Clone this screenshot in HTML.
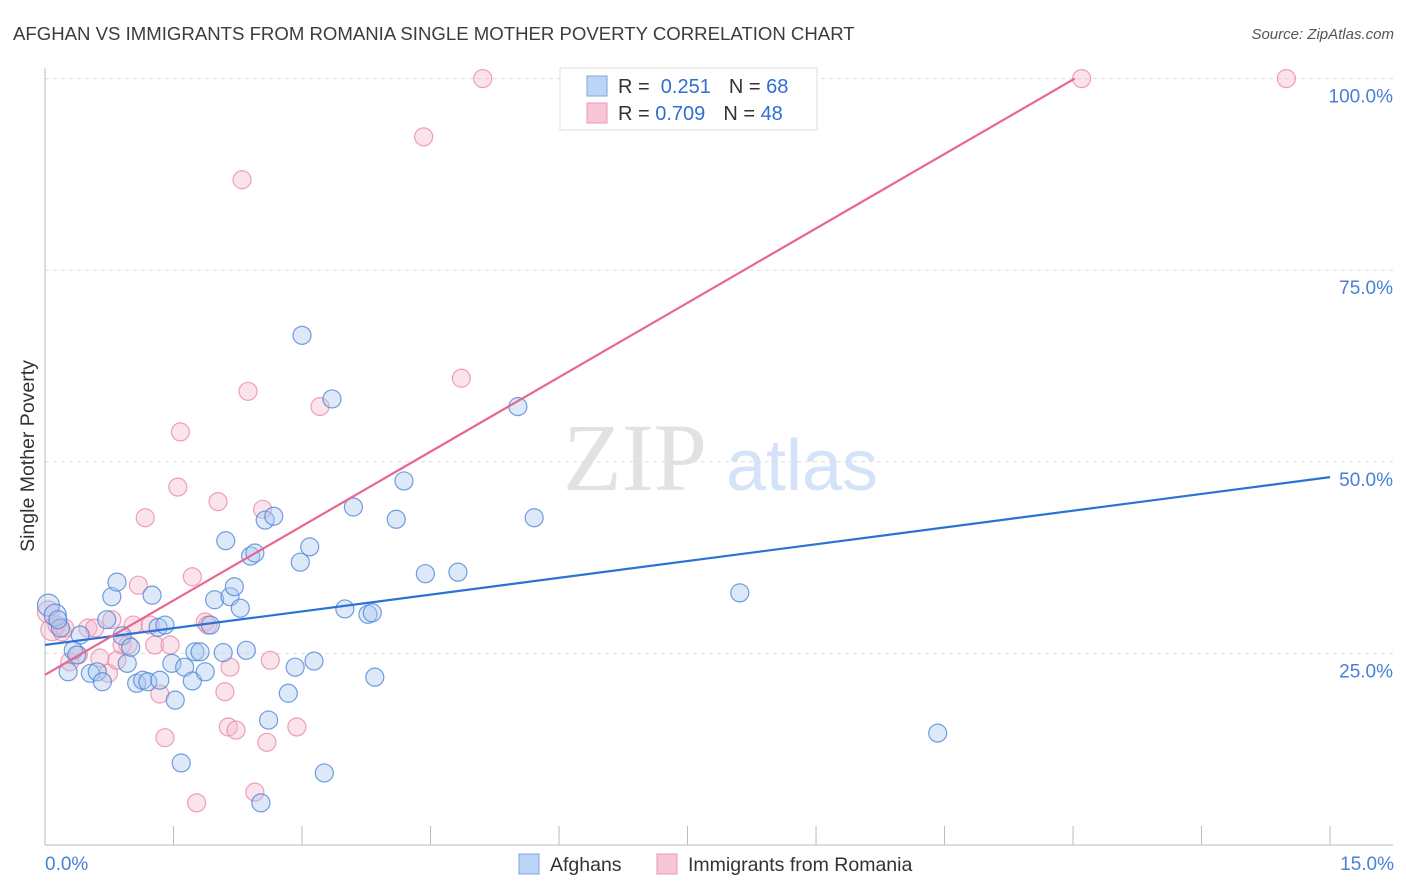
<!DOCTYPE html>
<html><head><meta charset="utf-8"><style>
body{margin:0;background:#fff;font-family:"Liberation Sans",sans-serif;}
svg{display:block}
</style></head><body>
<svg width="1406" height="892" id="svg">
<text x="13" y="40" font-size="18.6" fill="#3c3c3c">AFGHAN VS IMMIGRANTS FROM ROMANIA SINGLE MOTHER POVERTY CORRELATION CHART</text>
<text x="1394" y="39" font-size="15" fill="#555" font-style="italic" text-anchor="end">Source: ZipAtlas.com</text>
<g>
<text x="635" y="490" font-size="96" font-family="Liberation Serif,serif" fill="#e2e2e2" text-anchor="middle">ZIP</text>
<text x="802" y="490" font-size="72" fill="#d4e3f7" text-anchor="middle">atlas</text>
</g>
<g id="grid"></g>
<g id="axes"></g>
<g id="pts"></g>
<g id="lines"></g>
<text x="34" y="456" font-size="19.5" fill="#333" text-anchor="middle" transform="rotate(-90 34 456)">Single Mother Poverty</text>
<text x="45" y="870" font-size="19" fill="#4a7fd6">0.0%</text>
<text x="1394" y="870" font-size="19" fill="#4a7fd6" text-anchor="end">15.0%</text>
<g>
<rect x="560" y="68" width="257" height="62" fill="#fff" stroke="#ddd"/>
<rect x="587" y="76" width="20" height="20" fill="#bcd4f5" stroke="#7ea6e0"/>
<rect x="587" y="103" width="20" height="20" fill="#f8c6d6" stroke="#eb9ab5"/>
<text x="618" y="93" font-size="20" fill="#333">R = <tspan fill="#2f6fd3">&#160;0.251</tspan><tspan dx="18">N = </tspan><tspan fill="#2f6fd3">68</tspan></text>
<text x="618" y="120" font-size="20" fill="#333">R = <tspan fill="#2f6fd3">0.709</tspan><tspan dx="18">N = </tspan><tspan fill="#2f6fd3">48</tspan></text>
</g>
<g>
<rect x="519" y="854" width="20" height="20" fill="#bcd4f5" stroke="#7ea6e0"/>
<text x="550" y="871" font-size="19.5" fill="#333">Afghans</text>
<rect x="657" y="854" width="20" height="20" fill="#f8c6d6" stroke="#eb9ab5"/>
<text x="688" y="871" font-size="19.5" fill="#333">Immigrants from Romania</text>
</g>
</svg>
<script>
const yTicks=[25,50,75,100];
const yTickLabels=["25.0%","50.0%","75.0%","100.0%"];
const xTicks=[0,1.5,3,4.5,6,7.5,9,10.5,12,13.5,15];
const blueX=[0.04,0.12,0.18,0.15,0.33,0.27,0.41,0.37,0.53,0.61,0.67,0.72,0.78,0.84,0.90,0.96,1.00,1.07,1.14,1.20,1.25,1.32,1.34,1.40,1.48,1.52,1.59,1.63,1.72,1.75,1.81,1.87,1.93,1.98,2.08,2.11,2.16,2.21,2.28,2.35,2.40,2.45,2.52,2.57,2.61,2.67,2.84,2.92,2.98,3.00,3.09,3.14,3.26,3.35,3.50,3.60,3.77,3.82,3.85,4.10,4.19,4.44,4.82,5.52,5.71,8.11,10.42];
const blueY=[31.3,30.0,28.3,29.4,25.4,22.6,27.4,24.8,22.4,22.6,21.3,29.4,32.4,34.3,27.3,23.7,25.8,21.1,21.5,21.3,32.6,28.4,21.5,28.7,23.7,18.9,10.7,23.2,21.4,25.2,25.2,22.6,28.7,32.0,25.1,39.7,32.4,33.7,30.9,25.4,37.7,38.1,5.5,42.4,16.3,42.9,19.8,23.2,36.9,66.5,38.9,24.0,9.4,58.2,30.8,44.1,30.1,30.3,21.9,42.5,47.5,35.4,35.6,57.2,42.7,32.9,14.6];
const pinkX=[0.04,0.08,0.14,0.20,0.23,0.29,0.39,0.50,0.58,0.64,0.74,0.78,0.84,0.90,0.97,1.03,1.09,1.17,1.23,1.28,1.34,1.40,1.46,1.58,1.55,1.72,1.77,1.87,1.90,2.02,2.10,2.14,2.16,2.23,2.30,2.37,2.45,2.54,2.59,2.63,2.94,3.21,4.42,4.86,5.11,12.10,14.49];
const pinkY=[30.4,28.1,28.7,27.8,28.3,23.9,24.8,28.3,28.3,24.4,22.4,29.4,24.1,26.1,26.1,28.7,33.9,42.7,28.7,26.1,19.7,14.0,26.1,53.9,46.7,35.0,5.5,29.1,28.7,44.8,20.0,15.4,23.2,15.0,86.8,59.2,6.9,43.8,13.4,24.1,15.4,57.2,92.4,60.9,100,100,100];
const blueTrend=[[0,26.1],[15,48.0]];
const pinkTrend=[[0,22.2],[12.02,100]];
const X=v=>45+v*85.67, Y=v=>845-v*7.664;
const NS="http://www.w3.org/2000/svg";
function mk(p,t,a){const e=document.createElementNS(NS,t);for(const k in a)e.setAttribute(k,a[k]);document.getElementById(p).appendChild(e);return e;}
yTicks.forEach((t,i)=>{
 const l=mk('grid','line',{x1:45,x2:1393,y1:Y(t),y2:Y(t),stroke:'#dddddd','stroke-dasharray':'4,4'});
 
 
 const tx=mk('grid','text',{x:1393,y:Y(t)+24,'font-size':19,fill:'#4a7fd6','text-anchor':'end'});
 tx.textContent=yTickLabels[i];
 
 
});
mk('axes','line',{x1:45,x2:45,y1:68,y2:845,stroke:'#bbb'});
mk('axes','line',{x1:45,x2:1393,y1:845,y2:845,stroke:'#bbb'});
xTicks.forEach(t=>{
 const l=mk('axes','line',{x1:X(t),x2:X(t),y1:826,y2:845,stroke:'#bbb'});
 
 
});
function pts(xs,ys,fill,stroke,name){xs.forEach((x,i)=>{
 const c=mk('pts','circle',{cx:X(x),cy:Y(ys[i]),r:(i<2?11:9),fill:fill,'fill-opacity':0.4,stroke:stroke,'stroke-width':1.2,'stroke-opacity':0.8});
 
 
});}
pts(pinkX,pinkY,'#f6b8cc','#e98aaa','point-romania');
pts(blueX,blueY,'#a9c8f1','#4f86d8','point-afghans');
const bl=mk('lines','line',{x1:X(blueTrend[0][0]),y1:Y(blueTrend[0][1]),x2:X(blueTrend[1][0]),y2:Y(blueTrend[1][1]),stroke:'#2a72d6','stroke-width':2.2});


const pl=mk('lines','line',{x1:X(pinkTrend[0][0]),y1:Y(pinkTrend[0][1]),x2:X(pinkTrend[1][0]),y2:Y(pinkTrend[1][1]),stroke:'#e8668f','stroke-width':2.2});


</script>
</body></html>
